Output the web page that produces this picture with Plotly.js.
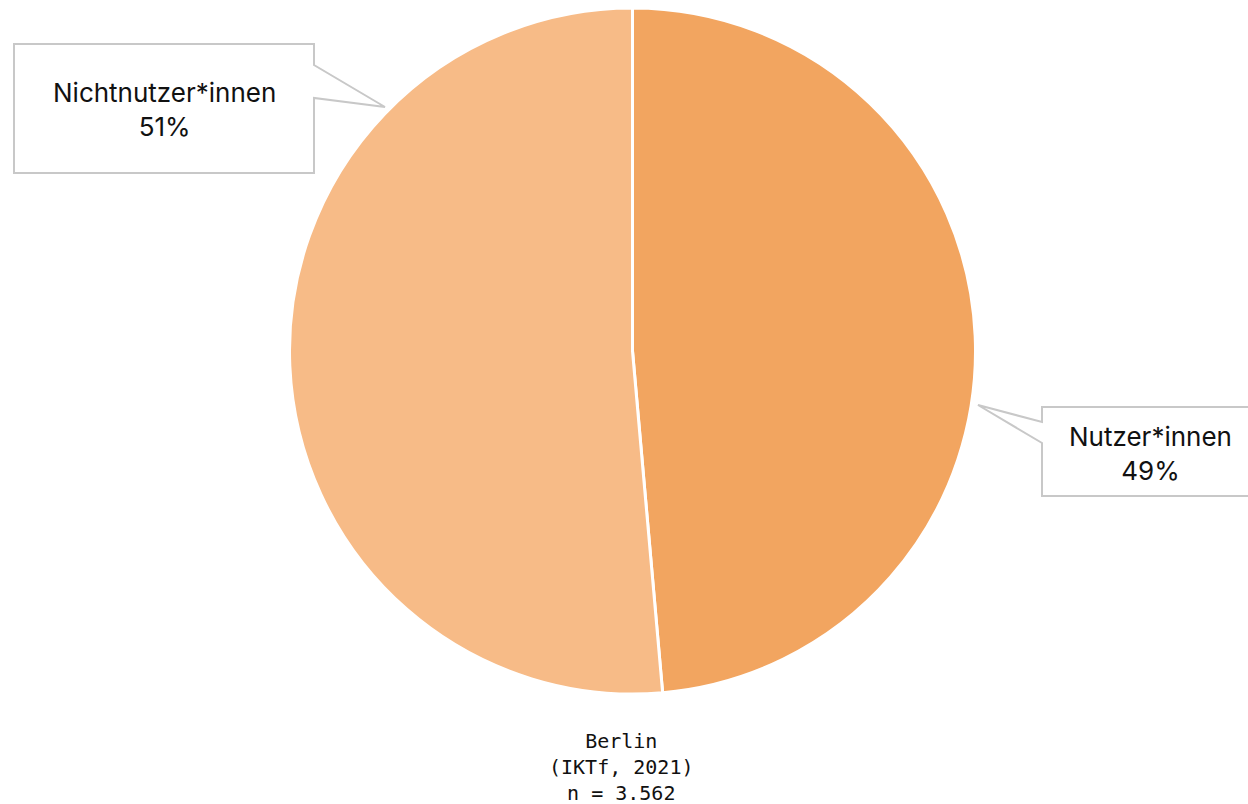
<!DOCTYPE html>
<html>
<head>
<meta charset="utf-8">
<script src="https://cdn.plot.ly/plotly-3.0.1.min.js"></script>
<style>html,body{margin:0;padding:0;background:#fff;}#chart{width:1248px;height:804px;}</style>
</head>
<body>
<div id="chart"></div>
<script>
const categories = ["Nutzer*innen", "Nichtnutzer*innen"];
const values = [48.6, 51.4];
const valueLabels = ["49%", "51%"];
const colors = ["#F2A560", "#F7BB87"];
const footnote = ["Berlin", "(IKTf, 2021)", "n = 3.562"];

const W = 1248, H = 804;
const px = x => x / W;
const py = y => 1 - y / H;
function pathFrom(points) {
  return "M " + points.map(p => px(p[0]).toFixed(5) + "," + py(p[1]).toFixed(5)).join(" L ") + " Z";
}

const calloutLeft = pathFrom([[14,44],[314,44],[314,65],[385,107],[314,98],[314,173],[14,173]]);
const calloutRight = pathFrom([[1042,407],[1260,407],[1260,496],[1042,496],[1042,443],[978,405],[1042,422]]);

const data = [{
  type: "pie",
  labels: categories,
  values: values,
  sort: false,
  direction: "clockwise",
  rotation: 0,
  textinfo: "none",
  hoverinfo: "label+percent",
  marker: {colors: colors, line: {color: "#ffffff", width: 3}},
  domain: {x: [px(632.5 - 343), px(632.5 + 343)], y: [py(694), py(8)]},
  showlegend: false
}];

const layout = {
  width: W, height: H,
  margin: {l: 0, r: 0, t: 0, b: 0},
  paper_bgcolor: "#ffffff",
  showlegend: false,
  shapes: [
    {type: "path", xref: "paper", yref: "paper", path: calloutLeft, fillcolor: "#ffffff", line: {color: "#c8c8c8", width: 2}, layer: "above"},
    {type: "path", xref: "paper", yref: "paper", path: calloutRight, fillcolor: "#ffffff", line: {color: "#c8c8c8", width: 2}, layer: "above"}
  ],
  annotations: [
    {xref: "paper", yref: "paper", x: px(164), y: py(110), xanchor: "center", yanchor: "middle", showarrow: false,
     text: categories[1] + "<br>" + valueLabels[1], align: "center",
     font: {family: "Inter, 'Noto Sans', sans-serif", size: 26, color: "#111111"}},
    {xref: "paper", yref: "paper", x: px(1150), y: py(453), xanchor: "center", yanchor: "middle", showarrow: false,
     text: categories[0] + "<br>" + valueLabels[0], align: "center",
     font: {family: "Inter, 'Noto Sans', sans-serif", size: 26, color: "#111111"}},
    {xref: "paper", yref: "paper", x: px(621), y: py(767), xanchor: "center", yanchor: "middle", showarrow: false,
     text: footnote.join("<br>"), align: "center",
     font: {family: "'DejaVu Sans Mono', monospace", size: 20, color: "#111111"}}
  ]
};

Plotly.newPlot("chart", data, layout, {displayModeBar: false, staticPlot: true});
</script>
</body>
</html>
